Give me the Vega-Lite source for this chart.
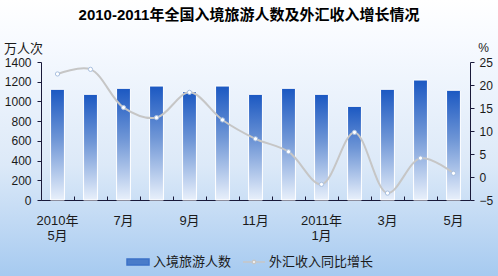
{
  "$schema": "https://vega.github.io/schema/vega-lite/v6.json",
  "width": 498,
  "height": 276,
  "autosize": "none",
  "padding": 0,
  "background": "#ffffff",
  "config": {
    "font": "Liberation Sans, Noto Sans CJK SC",
    "view": {
      "stroke": null,
      "fill": {
        "gradient": "linear",
        "x1": 0, "y1": 0, "x2": 0, "y2": 1,
        "stops": [
          {"offset": 0, "color": "#ffffff"},
          {"offset": 0.15, "color": "#f7faff"},
          {"offset": 0.6, "color": "#dce9f8"},
          {"offset": 1, "color": "#a6caf0"}
        ]
      }
    }
  },
  "title": {
    "text": "2010-2011年全国入境旅游人数及外汇收入增长情况",
    "fontSize": 15,
    "fontWeight": "bold",
    "color": "#000000",
    "anchor": "middle",
    "frame": "group",
    "baseline": "middle",
    "offset": -30
  },
  "data": {
    "values": [
      {"month": "2010-05", "visitors": 1123, "growth": 22.4},
      {"month": "2010-06", "visitors": 1072, "growth": 23.4},
      {"month": "2010-07", "visitors": 1133, "growth": 15.1},
      {"month": "2010-08", "visitors": 1156, "growth": 12.9},
      {"month": "2010-09", "visitors": 1099, "growth": 18.4},
      {"month": "2010-10", "visitors": 1156, "growth": 12.4},
      {"month": "2010-11", "visitors": 1072, "growth": 8.3},
      {"month": "2010-12", "visitors": 1133, "growth": 5.5},
      {"month": "2011-01", "visitors": 1072, "growth": -1.6},
      {"month": "2011-02", "visitors": 950, "growth": 9.7},
      {"month": "2011-03", "visitors": 1123, "growth": -3.5},
      {"month": "2011-04", "visitors": 1217, "growth": 4.1},
      {"month": "2011-05", "visitors": 1113, "growth": 0.8}
    ]
  },
  "encoding": {
    "x": {
      "field": "month",
      "type": "ordinal",
      "sort": null,
      "scale": {"range": [41, 470], "paddingInner": 0, "paddingOuter": 0},
      "axis": {
        "orient": "bottom",
        "offset": -76,
        "title": null,
        "bandPosition": 0,
        "tickSize": -4,
        "domainColor": "#1a1a3a",
        "tickColor": "#1a1a3a",
        "labelAngle": 0,
        "labelOverlap": false,
        "labelFontSize": 13,
        "labelColor": "#1a1a1a",
        "labelPadding": 18,
        "labelLineHeight": 15,
        "labelExpr": "datum.value == '2010-05' ? ['2010年', '5月'] : datum.value == '2011-01' ? ['2011年', '1月'] : datum.value == '2010-07' ? '7月' : datum.value == '2010-09' ? '9月' : datum.value == '2010-11' ? '11月' : datum.value == '2011-03' ? '3月' : datum.value == '2011-05' ? '5月' : ''"
      }
    }
  },
  "layer": [
    {
      "mark": {"type": "bar", "width": {"band": 0.42}, "stroke": "#ffffff", "strokeWidth": 1},
      "encoding": {
        "y": {
          "field": "visitors",
          "type": "quantitative",
          "scale": {"domain": [0, 1400], "range": [200, 62]},
          "axis": {
            "orient": "left",
            "offset": -41,
            "values": [0, 200, 400, 600, 800, 1000, 1200, 1400],
            "format": "d",
            "grid": false,
            "tickSize": 4,
            "labelPadding": 6,
            "labelFontSize": 12,
            "labelColor": "#1a1a1a",
            "domainColor": "#1a1a3a",
            "tickColor": "#1a1a3a",
            "title": "万人次",
            "titleAngle": 0,
            "titleX": -18,
            "titleY": 48,
            "titleAlign": "center",
            "titleBaseline": "middle",
            "titleFontSize": 13,
            "titleFontWeight": "normal",
            "titleColor": "#1a1a1a"
          }
        },
        "fill": {
          "value": {
            "gradient": "linear",
            "x1": 0, "y1": 0, "x2": 0, "y2": 1,
            "stops": [
              {"offset": 0, "color": "#1b58c2"},
              {"offset": 0.45, "color": "#6f96d6"},
              {"offset": 1, "color": "#e8f0fb"}
            ]
          }
        }
      }
    },
    {
      "encoding": {
        "y": {
          "field": "growth",
          "type": "quantitative",
          "scale": {"domain": [-5, 25], "range": [200, 62]},
          "axis": {
            "orient": "right",
            "offset": -28,
            "values": [-5, 0, 5, 10, 15, 20, 25],
            "format": "d",
            "grid": false,
            "tickSize": 4,
            "labelPadding": 5,
            "labelFontSize": 12,
            "labelColor": "#1a1a1a",
            "domainColor": "#1a1a3a",
            "tickColor": "#1a1a3a",
            "title": "%",
            "titleAngle": 0,
            "titleX": 13,
            "titleY": 47,
            "titleAlign": "center",
            "titleBaseline": "middle",
            "titleFontSize": 12,
            "titleFontWeight": "normal",
            "titleColor": "#1a1a1a"
          }
        }
      },
      "layer": [
        {
          "mark": {"type": "line", "interpolate": "catmull-rom", "strokeWidth": 2},
          "encoding": {
            "color": {
              "datum": "外汇收入同比增长",
              "scale": {"domain": ["入境旅游人数", "外汇收入同比增长"], "range": ["#3d72c8", "#c6c6c6"]},
              "legend": {
                "orient": "none",
                "direction": "horizontal",
                "legendX": 126,
                "legendY": 250,
                "title": null,
                "symbolSize": 484,
                "labelFontSize": 13,
                "labelColor": "#1a1a1a",
                "labelOffset": 3,
                "columnPadding": 8,
                "encode": {
                  "symbols": {
                    "update": {
                      "shape": {"signal": "datum.value === '入境旅游人数' ? 'M-1,-0.28H1V0.28H-1Z' : 'M-1,0H-0.17M0.17,0H1M0.15,0A0.15,0.15 0 1,1 -0.15,0A0.15,0.15 0 1,1 0.15,0'"},
                      "fill": {"signal": "datum.value === '入境旅游人数' ? '#4a7cc9' : '#ffffff'"},
                      "stroke": {"signal": "datum.value === '入境旅游人数' ? '#8aa8d8' : '#c8c8c8'"},
                      "strokeWidth": {"value": 1.5},
                      "opacity": {"value": 1}
                    }
                  }
                }
              }
            }
          }
        },
        {
          "mark": {"type": "point", "filled": true, "size": 18, "strokeWidth": 1, "opacity": 1},
          "encoding": {
            "fill": {"value": "#ffffff"},
            "stroke": {"value": "#a9c0e0"}
          }
        }
      ]
    }
  ],
  "resolve": {"scale": {"y": "independent"}}
}
